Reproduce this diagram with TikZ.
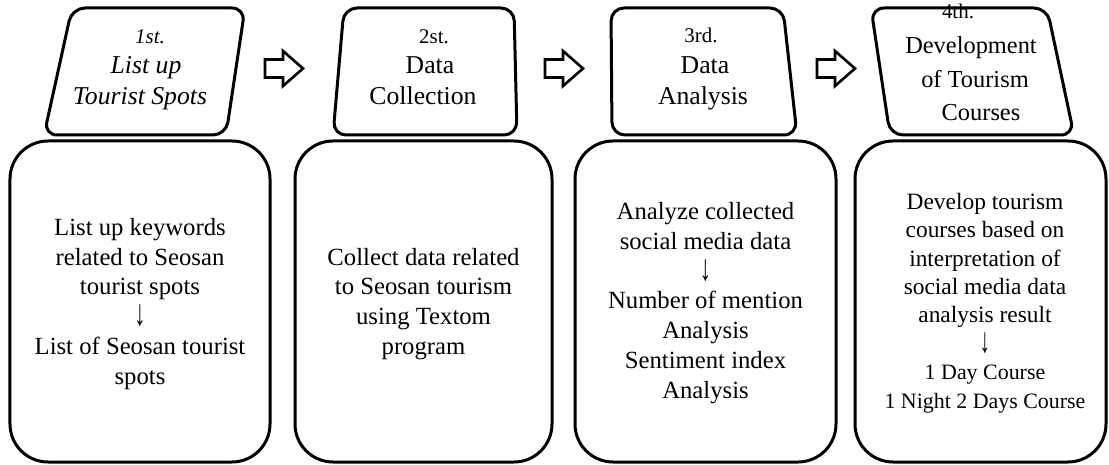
\documentclass[tikz,border=0pt]{standalone}
\usepackage{fontspec}
\setmainfont{Liberation Serif}
\newcommand{\downarr}{\raisebox{-1bp}{\scalebox{0.9}[1.5]{↓}}}
\begin{document}
\begin{tikzpicture}[x=1bp,y=-1bp,
  topbox/.style={draw, line width=3bp, rounded corners=13bp},
  botbox/.style={draw, line width=3bp, rounded corners=38bp, inner sep=0pt, minimum height=321bp},
  blockarrow/.style={draw, line width=2.6bp, line join=miter},
  ordtext/.style={anchor=base, inner sep=0pt, font=\fontsize{21}{25}\selectfont},
  toptext/.style={anchor=base, inner sep=0pt, font=\fontsize{25.8}{31}\selectfont},
  bottext/.style={align=center, inner sep=0pt, font=\fontsize{24.8}{30}\selectfont}]
\useasboundingbox (0,0) rectangle (1109,465);

% top boxes
\draw[topbox] (72,8) -- (245,8) -- (226,135) -- (44,135) -- cycle;
\draw[topbox] (344,8) -- (514,8) -- (517,135) -- (333,135) -- cycle;
\draw[topbox] (611,8) -- (783,8) -- (797,135) -- (612,135) -- cycle;
\draw[topbox] (871,8) -- (1047,8) -- (1074,135) -- (890,135) -- cycle;

% top texts
\node[ordtext] (t1a) at (150,44) {\itshape 1st.};
\node[toptext] (t1b) at (146,74) {\itshape List up};
\node[toptext] (t1c) at (140,105) {\itshape Tourist Spots};

\node[ordtext] (t2a) at (434,44) {2st.};
\node[toptext] (t2b) at (430,74) {Data};
\node[toptext] (t2c) at (423,105) {Collection};

\node[ordtext] (t3a) at (701,43) {3rd.};
\node[toptext] (t3b) at (705,74) {Data};
\node[toptext] (t3c) at (703,105) {Analysis};

\node[ordtext] (t4a) at (958,19) {4th.};
\node[toptext, font=\fontsize{24.5}{30}\selectfont] (t4b) at (971,54) {Development};
\node[toptext, font=\fontsize{24.5}{30}\selectfont] (t4c) at (975,88) {of Tourism};
\node[toptext, font=\fontsize{24.5}{30}\selectfont] (t4d) at (981,121) {Courses};

% block arrows
\foreach \L in {265,545,817}{
  \draw[blockarrow] (\L,59.5) -- ++(18,0) -- ++(0,-8.5) -- ++(20,17.5) -- ++(-20,17.5) -- ++(0,-8.5) -- ++(-18,0) -- cycle;
}

% bottom boxes
\node[botbox, minimum width=260bp] (b1) at (140,301.5) {};
\node[botbox, minimum width=257bp] (b2) at (423.5,301.5) {};
\node[botbox, minimum width=261bp] (b3) at (705.5,301.5) {};
\node[botbox, minimum width=251bp] (b4) at (980.5,301.5) {};

% bottom texts
\node[bottext] (x1) at (140,304) {List up keywords\\related to Seosan\\tourist spots\\\downarr\\List of Seosan tourist\\spots};
\node[bottext] (x2) at (423.5,304) {Collect data related\\to Seosan tourism\\using Textom\\program};
\node[bottext] (x3) at (705.5,303) {Analyze collected\\social media data\\\downarr\\Number of mention\\Analysis\\Sentiment index\\Analysis};
\node[bottext, font=\fontsize{23.5}{28.5}\selectfont] (x4) at (985,303) {Develop tourism\\courses based on\\interpretation of\\social media data\\analysis result\\\downarr\\{\fontsize{22}{26.5}\selectfont 1 Day Course}\\{\fontsize{22}{26.5}\selectfont 1 Night 2 Days Course}};
\end{tikzpicture}
\end{document}
